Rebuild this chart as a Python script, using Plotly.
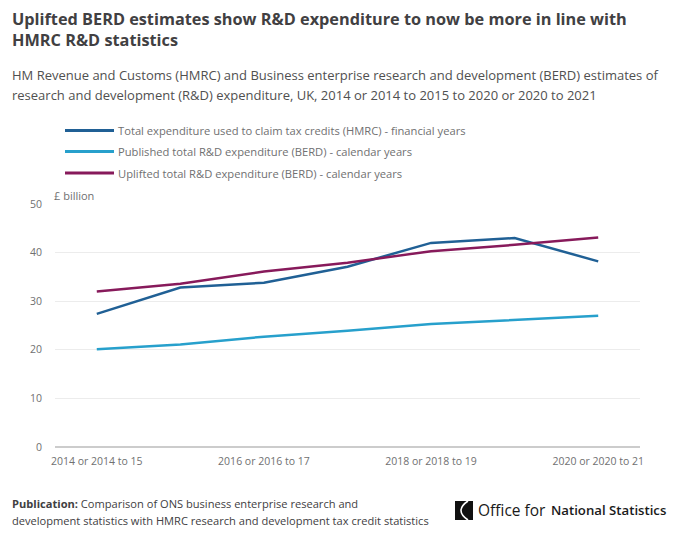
import plotly.graph_objects as go

# categories and values (£ billion)
years = ["2014 or 2014 to 15", "2015 or 2015 to 16", "2016 or 2016 to 17",
         "2017 or 2017 to 18", "2018 or 2018 to 19", "2019 or 2019 to 20",
         "2020 or 2020 to 21"]
hmrc = [27.4, 32.8, 33.8, 37.1, 42.0, 43.0, 38.2]
berd_published = [20.1, 21.1, 22.7, 23.9, 25.3, 26.1, 27.0]
berd_uplifted = [32.0, 33.6, 36.1, 37.9, 40.3, 41.6, 43.1]

series_names = ["Total expenditure used to claim tax credits (HMRC) - financial years",
                "Published total R&D expenditure (BERD) - calendar years",
                "Uplifted total R&D expenditure (BERD) - calendar years"]
tick_labels = [years[0], years[2], years[4], years[6]]

FONT = "Open Sans"
TEXT = "#414042"
GREY = "#707071"

# page has an 8px body margin, so the figure is drawn 8px in from the corner
OFF = 8
W, H = 680 - OFF, 541 - OFF
L, R, T, B = 47, 40, 196, 94
PW = W - L - R
PH = H - T - B


# reference pixel -> paper coords
def px(x):
    return (x - OFF - L) / PW


def py(y):
    return (H - B - (y - OFF)) / PH


fig = go.Figure()
colors = ["#206095", "#27a0cc", "#871a5b"]
for name, vals, col in zip(series_names, [hmrc, berd_published, berd_uplifted], colors):
    fig.add_trace(go.Scatter(x=years, y=vals, mode="lines", name=name,
                             line=dict(color=col, width=2.5), showlegend=False))

fig.update_layout(
    width=W, height=H,
    margin=dict(l=L, r=R, t=T, b=B),
    paper_bgcolor="white", plot_bgcolor="white",
    font=dict(family=FONT, color=GREY, size=11),
)
fig.update_xaxes(type="category", range=[-0.5, 6.5], tickvals=tick_labels,
                 ticktext=tick_labels, showgrid=False, showline=False,
                 ticks="", tickfont=dict(size=10.5, color=GREY), zeroline=False,
                 ticklabelstandoff=6)
fig.update_yaxes(range=[0, 50], dtick=10, showgrid=True, gridcolor="#ececec",
                 zeroline=True, zerolinecolor="#cccccc", zerolinewidth=1.5,
                 tickfont=dict(size=10.5, color=GREY), ticklabelstandoff=12)


def text(x, y, s, size, color, anchor="middle", **kw):
    fig.add_annotation(xref="paper", yref="paper", x=px(x), y=py(y), text=s,
                       xanchor="left", yanchor=anchor, showarrow=False,
                       align="left", borderpad=0,
                       font=dict(family=FONT, size=size, color=color, **kw))


# legend
for i, (name, col) in enumerate(zip(series_names, colors)):
    ly = [130.5, 151.5, 173][i]
    fig.add_shape(type="line", xref="paper", yref="paper", x0=px(65), x1=px(114),
                  y0=py(ly), y1=py(ly), line=dict(color=col, width=3))
    text(117, ly, name, 11.2, GREY)

text(11, 19, "<b>Uplifted BERD estimates show R&D expenditure to now be more in line with</b>", 16.3, TEXT)
text(11, 40.5, "<b>HMRC R&D statistics</b>", 16.3, TEXT)
text(11, 75, "HM Revenue and Customs (HMRC) and Business enterprise research and development (BERD) estimates of", 13, "#505050")
text(11, 95, "research and development (R&D) expenditure, UK, 2014 or 2014 to 2015 to 2020 or 2020 to 2021", 13, "#505050")
text(53, 195.5, "£ billion", 11, GREY)
text(11, 503, "<b>Publication:</b> Comparison of ONS business enterprise research and", 11.1, TEXT)
text(11, 520, "development statistics with HMRC research and development tax credit statistics", 11.1, TEXT)
text(477, 509.5, "Office for", 15.5, "#1a1a1a")
text(550, 509.5, "National Statistics", 13.2, "#1a1a1a", weight=600)

# ONS logo mark: black square with a white arc
x0, x1, y0, y1 = px(455), px(473), py(520), py(501)
fig.add_shape(type="rect", xref="paper", yref="paper", x0=x0, x1=x1, y0=y0, y1=y1,
              fillcolor="#111111", line_width=0)
fig.add_shape(type="path", xref="paper", yref="paper",
              path=f"M {px(468)},{y1} Q {px(454)},{(y0 + y1) / 2} {px(468)},{y0}",
              line=dict(color="white", width=1.6))

fig.write_html("out.html")
